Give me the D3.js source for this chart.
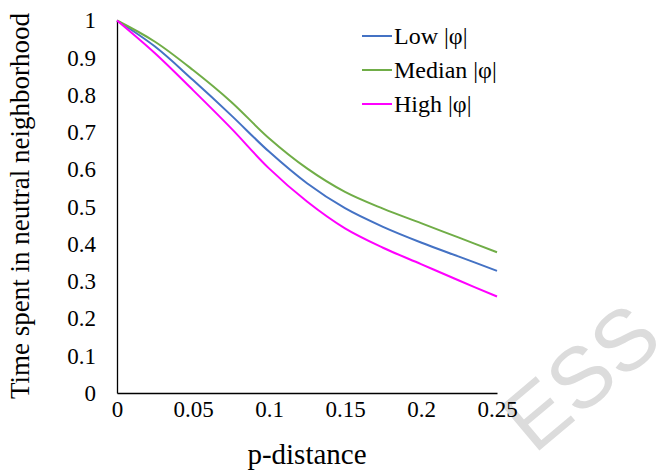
<!DOCTYPE html>
<html>
<head>
<meta charset="utf-8">
<script src="https://cdn.jsdelivr.net/npm/d3@7"></script>
<style>
  body { margin: 0; background: #fff; }
  text { font-family: "Liberation Serif", "Times New Roman", serif; fill: #000; }
</style>
</head>
<body>
<div id="chart"></div>
<script>
// p-distance values along the x axis
var pDistance = [0, 0.025, 0.05, 0.075, 0.1, 0.125, 0.15, 0.175, 0.2, 0.225, 0.25];

// time spent in neutral neighborhood, one array per |phi| group
var lowPhi    = [1, 0.930, 0.840, 0.746, 0.648, 0.563, 0.496, 0.446, 0.404, 0.366, 0.328];
var medianPhi = [1, 0.943, 0.867, 0.782, 0.684, 0.603, 0.540, 0.495, 0.456, 0.417, 0.378];
var highPhi   = [1, 0.912, 0.813, 0.711, 0.603, 0.514, 0.442, 0.390, 0.346, 0.302, 0.259];

var seriesNames = ["Low |\u03c6|", "Median |\u03c6|", "High |\u03c6|"];
var seriesColors = ["#4472C4", "#70AD47", "#FF00FF"];

var xTicks = [0, 0.05, 0.1, 0.15, 0.2, 0.25];
var yTicks = [0, 0.1, 0.2, 0.3, 0.4, 0.5, 0.6, 0.7, 0.8, 0.9, 1];

var width = 660, height = 471;
var margin = {left: 117, right: 163, top: 20.5, bottom: 78};

var svg = d3.select("#chart")
    .append("svg")
    .attr("width", width)
    .attr("height", height);

// light watermark in the corner
svg.append("text")
    .attr("transform", "translate(580,376) rotate(-40)")
    .attr("text-anchor", "middle")
    .attr("dy", "0.36em")
    .style("font-family", "'Liberation Sans', Arial, sans-serif")
    .style("font-size", "86px")
    .style("fill", "#dcdcdc")
    .text("ESS");

var x = d3.scaleLinear()
    .domain([0, 0.25])
    .range([margin.left, width - margin.right]);

var y = d3.scaleLinear()
    .domain([0, 1])
    .range([height - margin.bottom, margin.top]);

var xAxis = svg.append("g")
    .attr("transform", "translate(0," + y(0) + ")")
    .call(d3.axisBottom(x).tickValues(xTicks).tickSize(0).tickPadding(8)
        .tickFormat(function (d) { return String(d); }));

var yAxis = svg.append("g")
    .attr("transform", "translate(" + x(0) + ",0)")
    .call(d3.axisLeft(y).tickValues(yTicks).tickSize(0).tickPadding(21)
        .tickFormat(function (d) { return String(d); }));

[xAxis, yAxis].forEach(function (g) {
    g.attr("font-family", "Liberation Serif").attr("font-size", 23);
    g.select(".domain").attr("stroke", "#000").attr("stroke-width", 1.3);
    g.selectAll("text")
        .attr("fill", "#000")
        .style("font-family", "'Liberation Serif', 'Times New Roman', serif");
});
xAxis.selectAll("text").attr("dy", "0.71em");

// axis titles
svg.append("text")
    .attr("x", (x(0) + x(0.25)) / 2)
    .attr("y", 464)
    .attr("text-anchor", "middle")
    .style("font-size", "29px")
    .text("p-distance");

svg.append("text")
    .attr("transform", "translate(29," + 206 + ") rotate(-90)")
    .attr("text-anchor", "middle")
    .style("font-size", "27px")
    .text("Time spent in neutral neighborhood");

var line = d3.line()
    .x(function (d, i) { return x(pDistance[i]); })
    .y(function (d) { return y(d); })
    .curve(d3.curveCatmullRom.alpha(0.5));

var allSeries = [lowPhi, medianPhi, highPhi];

svg.append("g")
    .selectAll("path")
    .data(allSeries)
    .enter().append("path")
    .attr("d", line)
    .attr("fill", "none")
    .attr("stroke", function (d, i) { return seriesColors[i]; })
    .attr("stroke-width", 2);

// legend
var legend = svg.append("g")
    .attr("transform", "translate(362,36)");

var items = legend.selectAll("g")
    .data(seriesNames)
    .enter().append("g")
    .attr("transform", function (d, i) { return "translate(0," + (i * 34) + ")"; });

items.append("line")
    .attr("x1", 0).attr("x2", 30)
    .attr("stroke", function (d, i) { return seriesColors[i]; })
    .attr("stroke-width", 2);

items.append("text")
    .attr("x", 32)
    .attr("dy", "0.35em")
    .style("font-size", "24px")
    .text(function (d) { return d; });
</script>
</body>
</html>
